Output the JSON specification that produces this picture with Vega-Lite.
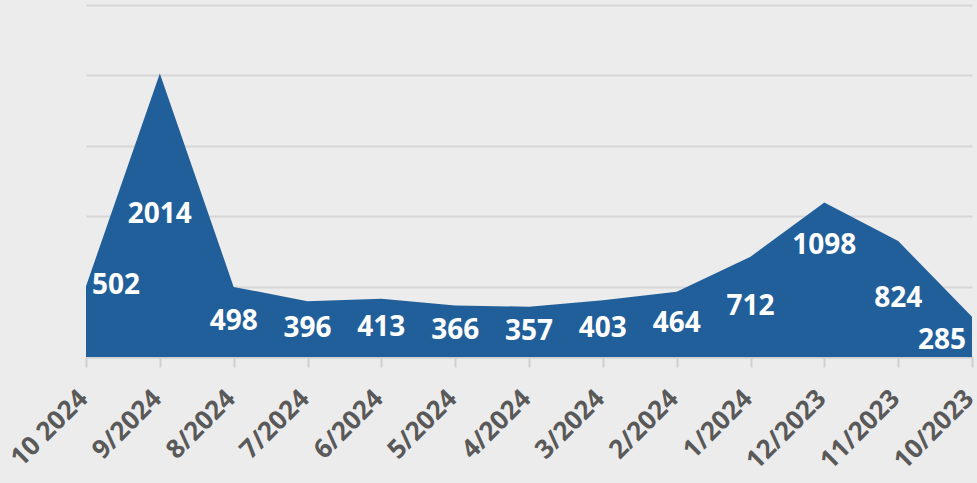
{
  "$schema": "https://vega.github.io/schema/vega-lite/v6.json",
  "autosize": "none",
  "width": 886,
  "height": 352,
  "padding": {"left": 86, "top": 5, "right": 5, "bottom": 126},
  "background": "#ececec",
  "config": {"view": {"stroke": null}},
  "data": {"values": [
    {"month": "10 2024", "value": 502},
    {"month": "9/2024", "value": 2014},
    {"month": "8/2024", "value": 498},
    {"month": "7/2024", "value": 396},
    {"month": "6/2024", "value": 413},
    {"month": "5/2024", "value": 366},
    {"month": "4/2024", "value": 357},
    {"month": "3/2024", "value": 403},
    {"month": "2/2024", "value": 464},
    {"month": "1/2024", "value": 712},
    {"month": "12/2023", "value": 1098},
    {"month": "11/2023", "value": 824},
    {"month": "10/2023", "value": 285}
  ]},
  "transform": [{"calculate": "datum.value / 2", "as": "mid"}],
  "encoding": {
    "x": {"field": "month", "type": "ordinal", "sort": null,
      "scale": {"type": "point", "padding": 0},
      "axis": {"title": null, "labelAngle": -45, "labelAlign": "right", "labelBaseline": "middle",
        "labelFont": "Open Sans", "labelFontWeight": "bold", "labelFontSize": 26, "labelColor": "#595959",
        "labelPadding": 27, "labelOffset": -3, "labelBound": false, "labelOverlap": false, "tickColor": "#d0d0d0", "tickSize": 10, "tickWidth": 2,
        "domainColor": "#d0d0d0", "domainWidth": 2, "grid": false}}
  },
  "layer": [
    {"mark": {"type": "area", "color": "#215f9a", "interpolate": "linear"},
     "encoding": {"y": {"field": "value", "type": "quantitative",
       "scale": {"domain": [0, 2500], "nice": false, "zero": true},
       "axis": {"title": null, "labels": false, "ticks": false, "domain": false,
         "values": [0, 500, 1000, 1500, 2000, 2500], "gridColor": "#d6d6d6", "gridWidth": 2}}}},
    {"transform": [{"filter": "datum.month != '10 2024' && datum.month != '10/2023' && datum.month != '12/2023'"}],
     "mark": {"type": "text", "color": "white", "font": "Open Sans", "fontWeight": "bold", "fontSize": 28, "baseline": "middle"},
     "encoding": {"y": {"field": "mid", "type": "quantitative"}, "text": {"field": "value", "type": "quantitative"}}},
    {"transform": [{"filter": "datum.month == '12/2023'"}],
     "mark": {"type": "text", "color": "white", "font": "Open Sans", "fontWeight": "bold", "fontSize": 28, "baseline": "middle", "dy": 44},
     "encoding": {"y": {"field": "value", "type": "quantitative"}, "text": {"field": "value", "type": "quantitative"}}},
    {"transform": [{"filter": "datum.month == '10 2024'"}],
     "mark": {"type": "text", "color": "white", "font": "Open Sans", "fontWeight": "bold", "fontSize": 28, "baseline": "middle", "align": "left", "dx": 6},
     "encoding": {"y": {"field": "value", "type": "quantitative"}, "text": {"field": "value", "type": "quantitative"}}},
    {"transform": [{"filter": "datum.month == '10/2023'"}],
     "mark": {"type": "text", "color": "white", "font": "Open Sans", "fontWeight": "bold", "fontSize": 28, "baseline": "middle", "align": "right", "dx": -6, "dy": 4},
     "encoding": {"y": {"field": "mid", "type": "quantitative"}, "text": {"field": "value", "type": "quantitative"}}}
  ]
}
